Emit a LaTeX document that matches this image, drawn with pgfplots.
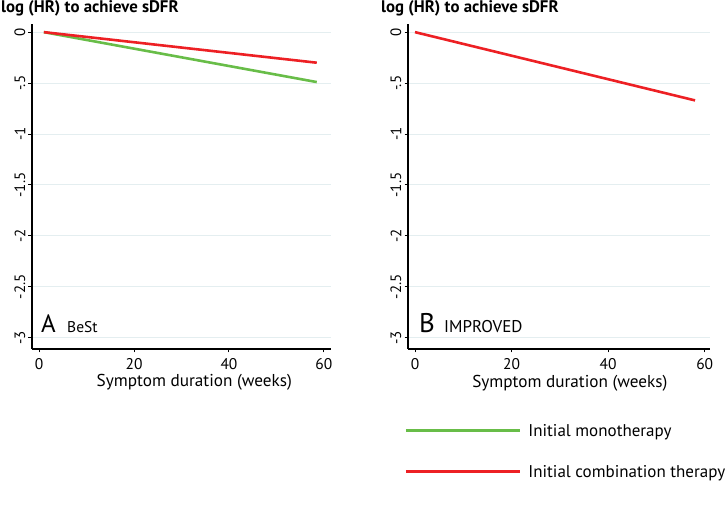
\documentclass[border=0pt]{standalone}
\usepackage{pgfplots}
\pgfplotsset{compat=1.18}
\usepackage{fontspec}
\setmainfont{PT Sans}
\definecolor{cgreen}{RGB}{104,189,72}
\definecolor{cred}{RGB}{237,32,36}
\definecolor{gridc}{RGB}{228,238,240}
\pgfplotsset{
  panel/.style={
    scale only axis,
    axis x line*=bottom, axis y line*=left,
    axis line style={line width=1.6pt, black, -},
    ymin=-3.11, ymax=0.08,
    ytick={-3,-2.5,-2,-1.5,-1,-0.5,0},
    yticklabels={-3,-2.5,-2,-1.5,-1,-.5,0},
    xtick={0,20,40,60}, xticklabels={0,20,40,60},
    tick align=outside, major tick length=3.5pt,
    tick style={line width=1pt, black},
    ymajorgrids, grid style={gridc, line width=1pt},
    yticklabel style={rotate=90, anchor=south, font=\fontsize{15}{15}\selectfont, inner sep=3pt},
    xticklabel style={font=\fontsize{15.5}{15.5}\selectfont, inner sep=3pt, yshift=-3pt},
    label style={font=\fontsize{17.2}{17.2}\selectfont},
    clip=false,
  }
}
\begin{document}
\begin{tikzpicture}
\path[use as bounding box] (0pt,0pt) rectangle (725pt,516pt);
% Panel A
\begin{axis}[panel, at={(32pt,167pt)}, anchor=south west,
  width=299pt, height=325pt, xmin=-1.5, xmax=61.5,
  xlabel={Symptom duration (weeks)},
  xlabel style={at={(axis description cs:0.543,0)}, anchor=base, yshift=-38pt}]
\addplot[cgreen, line width=2.6pt] coordinates {(1,0) (58.5,-0.49)};
\addplot[cred, line width=2.6pt] coordinates {(1,0) (58.5,-0.30)};
\end{axis}
% Panel B
\begin{axis}[panel, at={(408pt,167pt)}, anchor=south west,
  width=302pt, height=325pt, xmin=-1.45, xmax=61.1,
  xlabel={Symptom duration (weeks)},
  xlabel style={at={(axis description cs:0.536,0)}, anchor=base, yshift=-39pt},
  legend style={at={(axis description cs:-0.012,-0.233)}, anchor=north west,
    draw=none, fill=none, inner sep=0pt,
    font=\fontsize{17}{17}\selectfont,
    nodes={inner sep=0pt, anchor=base west},
    /tikz/column sep=7pt, /tikz/row sep=27.5pt},
  legend cell align=left,
  legend image code/.code={\draw[#1, line width=2.8pt] (0pt,6.5pt) -- (114pt,6.5pt);}]
\addlegendimage{cgreen}
\addlegendentry{Initial monotherapy}
\addplot[cred, line width=2.6pt] coordinates {(0,0) (58,-0.67)};
\addlegendentry{Initial combination therapy}
\end{axis}
% titles and panel letters
\node[anchor=base west, inner sep=0pt, font=\fontsize{16.8}{16.8}\selectfont\bfseries] at (1pt,503pt) {log (HR) to achieve sDFR};
\node[anchor=base west, inner sep=0pt, font=\fontsize{16.8}{16.8}\selectfont\bfseries] at (381pt,503pt) {log (HR) to achieve sDFR};
\node[anchor=base west, inner sep=0pt, font=\fontsize{25}{25}\selectfont] at (41pt,183pt) {A};
\node[anchor=base west, inner sep=0pt, font=\fontsize{15.5}{15.5}\selectfont] at (67pt,183pt) {BeSt};
\node[anchor=base west, inner sep=0pt, font=\fontsize{27}{27}\selectfont] at (419pt,183pt) {B};
\node[anchor=base west, inner sep=0pt, font=\fontsize{17}{17}\selectfont] at (444pt,183pt) {IMPROVED};
\end{tikzpicture}
\end{document}
